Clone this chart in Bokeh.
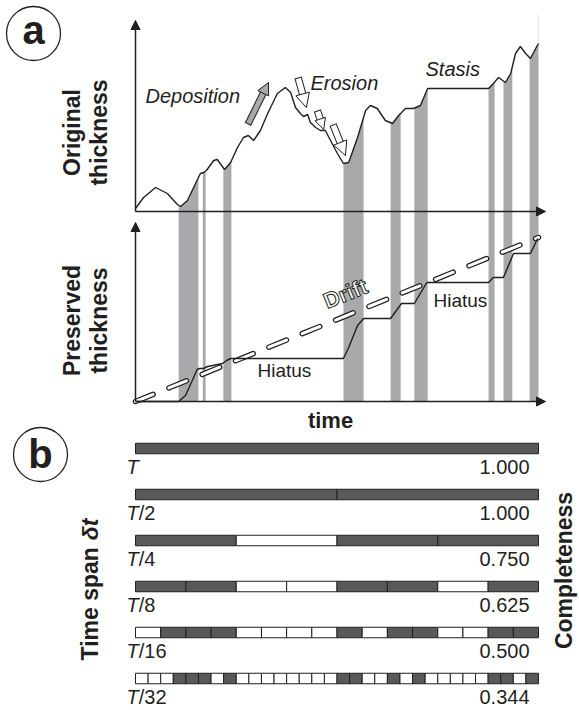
"""Stratigraphic completeness schematic: original vs preserved thickness through
time (a) and the completeness of that record at shrinking time spans (b).

Everything lives on one full-bleed figure; each panel gets its own y range so
the data keep their own units while the grey bands run straight through both
halves of panel a.
"""

import math

import numpy as np
from bokeh.core.properties import value
from bokeh.embed import file_html
from bokeh.models import Arrow, NormalHead, Range1d
from bokeh.plotting import figure
from bokeh.resources import INLINE

FONT = "Liberation Sans"
INK = "#231f20"
BAND = "#a7a9ac"
DARK = "#58595b"

# --- panel a: thickness through time (time 0..100, thickness in arbitrary units)
TIME = [0, 2.0, 5.0, 7.9, 10.4, 11.2, 12.9, 14.9, 16.1, 16.9, 17.6, 19.4, 20.3,
        22.1, 23.6, 25.3, 26.8, 28.0, 29.3, 31.0, 32.8, 35.2, 37.2, 38.5, 39.7,
        40.9, 41.7, 42.7, 43.4, 44.7, 45.9, 47.1, 48.4, 50.1, 51.6, 52.9, 55.1,
        57.1, 58.3, 60.0, 62.0, 63.8, 65.3, 67.0, 69.0, 70.7, 72.5, 87.6, 88.8,
        90.1, 91.8, 93.1, 94.3, 95.5, 96.8, 98.0, 99.3, 100]
ORIGINAL = [1.5, 7, 12, 9, 3.5, 2.5, 5.5, 14, 19, 19.5, 20.5, 25.5, 26,
            21, 24.5, 32, 37, 38, 35.5, 40.5, 49, 59, 62, 59.5, 52,
            49, 47.5, 48.5, 44.5, 42, 40.5, 40.5, 35.5, 29, 24, 24.5, 37,
            50.5, 53, 51.5, 45.5, 44, 48, 51.5, 51.5, 53, 61.5, 61.5, 64,
            67, 64.5, 69, 79, 82.5, 79, 76.5, 81.5, 84]

PRES_TIME = [0, 10.7, 12.4, 14.1, 15.3, 15.9, 16.9, 17.9, 21.6, 22.6, 23.6,
             51.6, 52.9, 55.1, 56.6, 63.3, 66.0, 69.2, 72.3, 87.6, 88.8, 91.3,
             93.8, 98.0, 99.8]
PRESERVED = [0, 0, 3, 10.5, 16, 16.5, 16.5, 17.5, 19, 20.5, 21.5,
             21.5, 27, 38, 41.5, 41.5, 49, 49, 59.5, 59.5, 62, 62,
             74, 74, 81.5]

# time intervals whose deposits survive (grey bands)
BAND_START = [10.7, 16.7, 21.8, 51.6, 63.3, 69.2, 87.6, 91.3, 97.8]
BAND_END = [15.6, 17.4, 23.8, 56.6, 65.8, 72.5, 89.1, 93.5, 100]

DRIFT_TIME = [0, 100]
DRIFT = [0, 82]
T_END = 100

# process arrows: (tail time, tail thickness, tip time, tip thickness)
DEPOSITION_ARROW = (28.0, 44, 33.0, 64.5)
EROSION_ARROWS = [(40.4, 66.5, 42.4, 52), (45.2, 50, 46.7, 41), (49.1, 43, 52.1, 28)]

# --- panel b: preserved (1) / missing (0) intervals per time span
SPANS = ["", "/2", "/4", "/8", "/16", "/32"]
CELLS = [
    "1",
    "11",
    "1011",
    "11001101",
    "0111000010110011",
    "00011101000000001100101000001101",
]
COMPLETENESS = [1.000, 1.000, 0.750, 0.625, 0.500, 0.344]

# layout: picture pixels -> data units
W, H = 579, 710
PX_T = 4.03     # px per time unit
PX_H = 2.0      # px per thickness unit
ROW_PX = 46.0   # px between bar rows
BAR_H = 10.5 / ROW_PX
MID = 0.36      # baseline -> "middle" anchor, in em


def tx(x):
    return (x - 135) / PX_T


Y_MAPS = {
    "default": lambda y: (211 - y) / PX_H,
    "pres": lambda y: (401 - y) / PX_H,
    "rows": lambda y: (y - 448) / ROW_PX,
}

p = figure(
    width=W, height=H, title=None,
    x_range=Range1d(tx(0), tx(W)),
    y_range=Range1d(Y_MAPS["default"](H), Y_MAPS["default"](0)),
    x_axis_type=None, y_axis_type=None,
    toolbar_location=None, output_backend="svg",
    min_border=0, outline_line_color=None,
)
p.extra_y_ranges = {
    name: Range1d(f(H), f(0)) for name, f in Y_MAPS.items() if name != "default"
}


def label(x, y, text, rng="default", size=20, style="normal", align="left",
          angle=0.0, color=INK, **kw):
    """Place text by its baseline point (picture px); anchored at the middle."""
    ax = x - MID * size * math.sin(angle)
    ay = y - MID * size * math.cos(angle)
    p.text(
        x=[tx(ax)], y=[Y_MAPS[rng](ay)], text=[text], y_range_name=rng,
        angle=angle, text_align=align, text_baseline="middle",
        text_font=value(FONT), text_font_size=f"{size}px",
        text_font_style=style, text_color=color, **kw,
    )


def block_arrow(spec, fill, shaft, head):
    t0, h0, t1, h1 = spec
    dx, dy = (t1 - t0) * PX_T, (h1 - h0) * PX_H
    n = math.hypot(dx, dy)
    ux, uy = dx / n, dy / n

    def back(t, h, d):
        return t - ux * d / PX_T, h - uy * d / PX_H

    sx, sy = back(t1, h1, head * 0.85)
    ox, oy = back(t0, h0, 1)
    p.add_layout(Arrow(end=None, x_start=ox, y_start=oy, x_end=sx, y_end=sy,
                       line_color=INK, line_width=shaft + 2))
    p.add_layout(Arrow(end=None, x_start=t0, y_start=h0, x_end=sx, y_end=sy,
                       line_color=fill, line_width=shaft))
    p.add_layout(Arrow(end=NormalHead(size=head, fill_color=fill, line_color=INK,
                                      line_width=1),
                       x_start=sx, y_start=sy, x_end=t1, y_end=h1, line_alpha=0))


# grey bands from the bottom axis up, then masked above the original curve
p.quad(left=BAND_START, right=BAND_END, bottom=0, top=Y_MAPS["pres"](14),
       y_range_name="pres", fill_color=BAND, line_color=None)
p.varea(x=TIME, y1=ORIGINAL, y2=Y_MAPS["default"](-60), fill_color="white")

# drift: outlined white dashes
p.line(DRIFT_TIME, DRIFT, y_range_name="pres", line_color=INK, line_width=5.5,
       line_dash="19 17", line_cap="round")
p.line(DRIFT_TIME, DRIFT, y_range_name="pres", line_color="white", line_width=3,
       line_dash="19 17", line_cap="round")

p.line(TIME, ORIGINAL, line_color=INK, line_width=1.4)
p.line(PRES_TIME, PRESERVED, y_range_name="pres", line_color=INK, line_width=1.4)

# axes
for rng, top in (("default", 20), ("pres", 222)):
    p.add_layout(Arrow(end=NormalHead(size=9, fill_color=INK, line_color=INK),
                       x_start=0, y_start=0, x_end=tx(545), y_end=0,
                       y_range_name=rng, line_color=INK, line_width=1.5))
    p.add_layout(Arrow(end=NormalHead(size=9, fill_color=INK, line_color=INK),
                       x_start=0, y_start=0, x_end=0, y_end=Y_MAPS[rng](top),
                       y_range_name=rng, line_color=INK, line_width=1.5))

block_arrow(DEPOSITION_ARROW, BAND, 5, 12)
for spec, head in zip(EROSION_ARROWS, (14, 11, 14)):
    block_arrow(spec, "white", 5.5, head)

# panel b bars
for i, cells in enumerate(CELLS):
    edges = np.linspace(0, T_END, len(cells) + 1)
    p.quad(left=edges[:-1], right=edges[1:], bottom=i - BAR_H / 2, top=i + BAR_H / 2,
           y_range_name="rows", line_color=INK, line_width=1,
           fill_color=[DARK if c == "1" else "white" for c in cells])
    base = 448 + ROW_PX * i + 26
    label(126, base, "T", "rows", style="italic")
    label(138.2, base, SPANS[i], "rows")
    label(529, base, f"{COMPLETENESS[i]:.3f}", "rows", align="right")

# panel letters
p.scatter(x=[tx(33)], y=[Y_MAPS["default"](33)], size=54, marker="circle",
          fill_color=None, line_color=INK, line_width=1.3)
label(33, 44, "a", size=40, style="bold", align="center")
p.scatter(x=[tx(40)], y=[Y_MAPS["rows"](454)], y_range_name="rows", size=54,
          marker="circle", fill_color=None, line_color=INK, line_width=1.3)
label(40, 468, "b", "rows", size=40, style="bold", align="center")

# axis titles
up = math.pi / 2
label(80, 132, "Original", size=23, style="bold", align="center", angle=up)
label(107, 132, "thickness", size=23, style="bold", align="center", angle=up)
label(80, 320, "Preserved", size=23, style="bold", align="center", angle=up)
label(107, 320, "thickness", size=23, style="bold", align="center", angle=up)
label(330, 428, "time", size=22, style="bold", align="center")
label(98, 660, "Time span ", size=23, style="bold", angle=up)
label(98, 660 - 120.2, "δt", size=23, style="bold italic", angle=up)
label(572, 570, "Completeness", size=23, style="bold", align="center", angle=up)

# process annotations
label(145, 103, "Deposition", style="italic")
label(310, 90, "Erosion", style="italic")
label(425, 76, "Stasis", style="italic")
label(257, 377, "Hiatus", size=19)
label(433, 307, "Hiatus", size=19)
try:
    label(327, 309, "Drift", size=22, style="bold", angle=math.atan2(163, 403),
          color="white", text_outline_color=INK)
except AttributeError:
    label(327, 309, "Drift", size=22, style="bold", angle=math.atan2(163, 403))

open("out.html", "w").write(file_html(p, INLINE))
